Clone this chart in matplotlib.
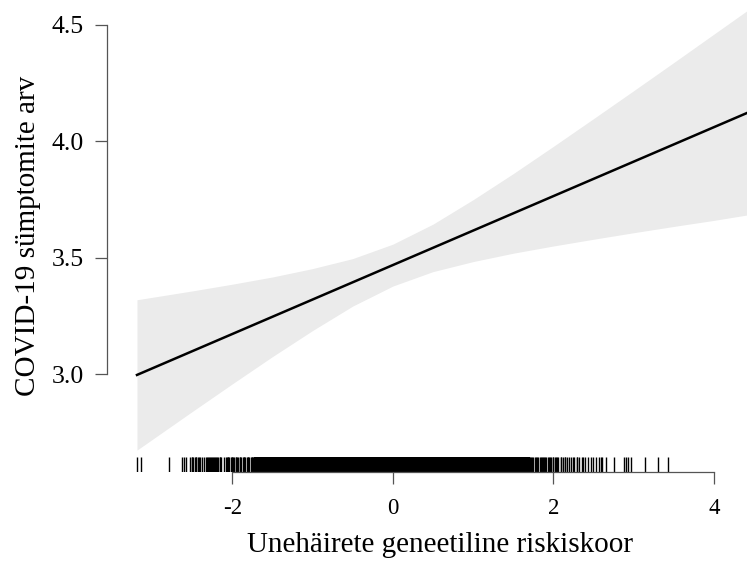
import matplotlib
matplotlib.use("Agg")
import matplotlib.pyplot as plt
import matplotlib.transforms as mtransforms

# fitted line
fit_x = [-3.19, 4.41]
fit_y = [2.996, 4.121]

# confidence band
band_x = [-3.19, -2.5, -2.0, -1.5, -1.0, -0.5, 0.0, 0.5, 1.0, 1.5, 2.0, 2.5, 3.0, 3.5, 4.0, 4.41]
band_lo = [2.673, 2.839, 2.958, 3.075, 3.187, 3.292, 3.378, 3.440, 3.483, 3.519,
           3.550, 3.579, 3.607, 3.634, 3.660, 3.683]
band_hi = [3.319, 3.357, 3.386, 3.417, 3.453, 3.496, 3.558, 3.644, 3.749, 3.861,
           3.978, 4.097, 4.217, 4.338, 4.460, 4.560]

# rug: sparse observations at the tails
rug_sparse = [-3.19, -3.14, -2.79, -2.63, -2.61, -2.58, -2.53, -2.51, -2.50, -2.49,
              -2.47, -2.46, -2.45, -2.43, -2.42, -2.41, -2.38, -2.35, -2.33, -2.32,
              -2.30, -2.29, -2.28, -2.27, -2.26, -2.24, -2.23, -2.22, -2.20, -2.19,
              -2.18, -2.16, -2.15, -2.14, -2.11, -2.08, -2.07, -2.06, -2.05, -2.04,
              -2.02, -2.01, -2.00, -1.99, -1.98, -1.96, -1.95, -1.94, -1.93, -1.91,
              -1.90, -1.89, -1.87, -1.86, -1.85, -1.84, -1.82, -1.81, -1.80, -1.79,
              -1.77, -1.76, -1.75, -1.74, -1.73, -1.72, -1.71,
              1.70, 1.71, 1.72, 1.74, 1.75, 1.77, 1.78, 1.80, 1.81, 1.83, 1.84,
              1.86, 1.87, 1.88, 1.90, 1.91, 1.93, 1.94, 1.96, 1.97, 1.99, 2.00,
              2.02, 2.03, 2.05, 2.06, 2.09, 2.10, 2.12, 2.14, 2.15, 2.17, 2.19,
              2.22, 2.24, 2.26, 2.29, 2.30, 2.32, 2.36, 2.37, 2.40, 2.43, 2.47,
              2.49, 2.53, 2.57, 2.59, 2.61, 2.66, 2.75, 2.88, 2.90, 2.93, 2.97,
              3.14, 3.31, 3.43]
# rug: the dense middle, where the ticks merge into a solid block
rug_dense = [-1.69, -1.65, -1.61, -1.57, -1.53, -1.49, -1.45, -1.41, -1.37, -1.33,
             -1.29, -1.25, -1.21, -1.17, -1.13, -1.09, -1.05, -1.01, -0.97, -0.93,
             -0.89, -0.85, -0.81, -0.77, -0.73, -0.69, -0.65, -0.61, -0.57, -0.53,
             -0.49, -0.45, -0.41, -0.37, -0.33, -0.29, -0.25, -0.21, -0.17, -0.13,
             -0.09, -0.05, -0.01, 0.03, 0.07, 0.11, 0.15, 0.19, 0.23, 0.27,
             0.31, 0.35, 0.39, 0.43, 0.47, 0.51, 0.55, 0.59, 0.63, 0.67,
             0.71, 0.75, 0.79, 0.83, 0.87, 0.91, 0.95, 0.99, 1.03, 1.07,
             1.11, 1.15, 1.19, 1.23, 1.27, 1.31, 1.35, 1.39, 1.43, 1.47,
             1.51, 1.55, 1.59, 1.63, 1.67]

x_ticks = [-2, 0, 2, 4]
x_tick_labels = ["-2", "0", "2", "4"]
y_ticks = [3.0, 3.5, 4.0, 4.5]
y_tick_labels = ["3.0", "3.5", "4.0", "4.5"]

plt.rcParams['font.family'] = ['Liberation Serif', 'DejaVu Serif']

fig = plt.figure(figsize=(7.47, 5.66), dpi=100)
ax = fig.add_axes([0.1432, 0.1661, 0.8568, 0.8339])

ax.fill_between(band_x, band_lo, band_hi, color="#ebebeb", linewidth=0)
ax.plot(fit_x, fit_y, color="black", linewidth=1.8)

# rug along the bottom edge
trans = mtransforms.blended_transform_factory(ax.transData, ax.transAxes)
ax.vlines(rug_sparse, 0, 0.032, transform=trans, color="black", linewidth=1.0)
ax.vlines(rug_dense, 0, 0.032, transform=trans, color="black", linewidth=4.5)

ax.set_xlim(-3.564, 4.414)
ax.set_ylim(2.579, 4.607)

for side in ["top", "right"]:
    ax.spines[side].set_visible(False)
ax.spines["left"].set_bounds(3.0, 4.5)
ax.spines["bottom"].set_bounds(-2, 4)
for side in ["left", "bottom"]:
    ax.spines[side].set_color("#555555")
    ax.spines[side].set_linewidth(0.9)

ax.set_xticks(x_ticks)
ax.set_xticklabels(x_tick_labels)
ax.set_yticks(y_ticks)
ax.set_yticklabels(y_tick_labels)
ax.tick_params(length=8.6, width=0.9, color="#555555")
ax.tick_params(axis="x", labelsize=16.5, pad=10)
ax.tick_params(axis="y", labelsize=18.5, pad=8)

ax.set_xlabel("Unehäirete geneetiline riskiskoor", fontsize=21, labelpad=12)
ax.set_ylabel("COVID-19 sümptomite arv", fontsize=21, labelpad=8)
ax.xaxis.set_label_coords(0.52, -0.128)

fig.savefig("out.png", dpi=100)
